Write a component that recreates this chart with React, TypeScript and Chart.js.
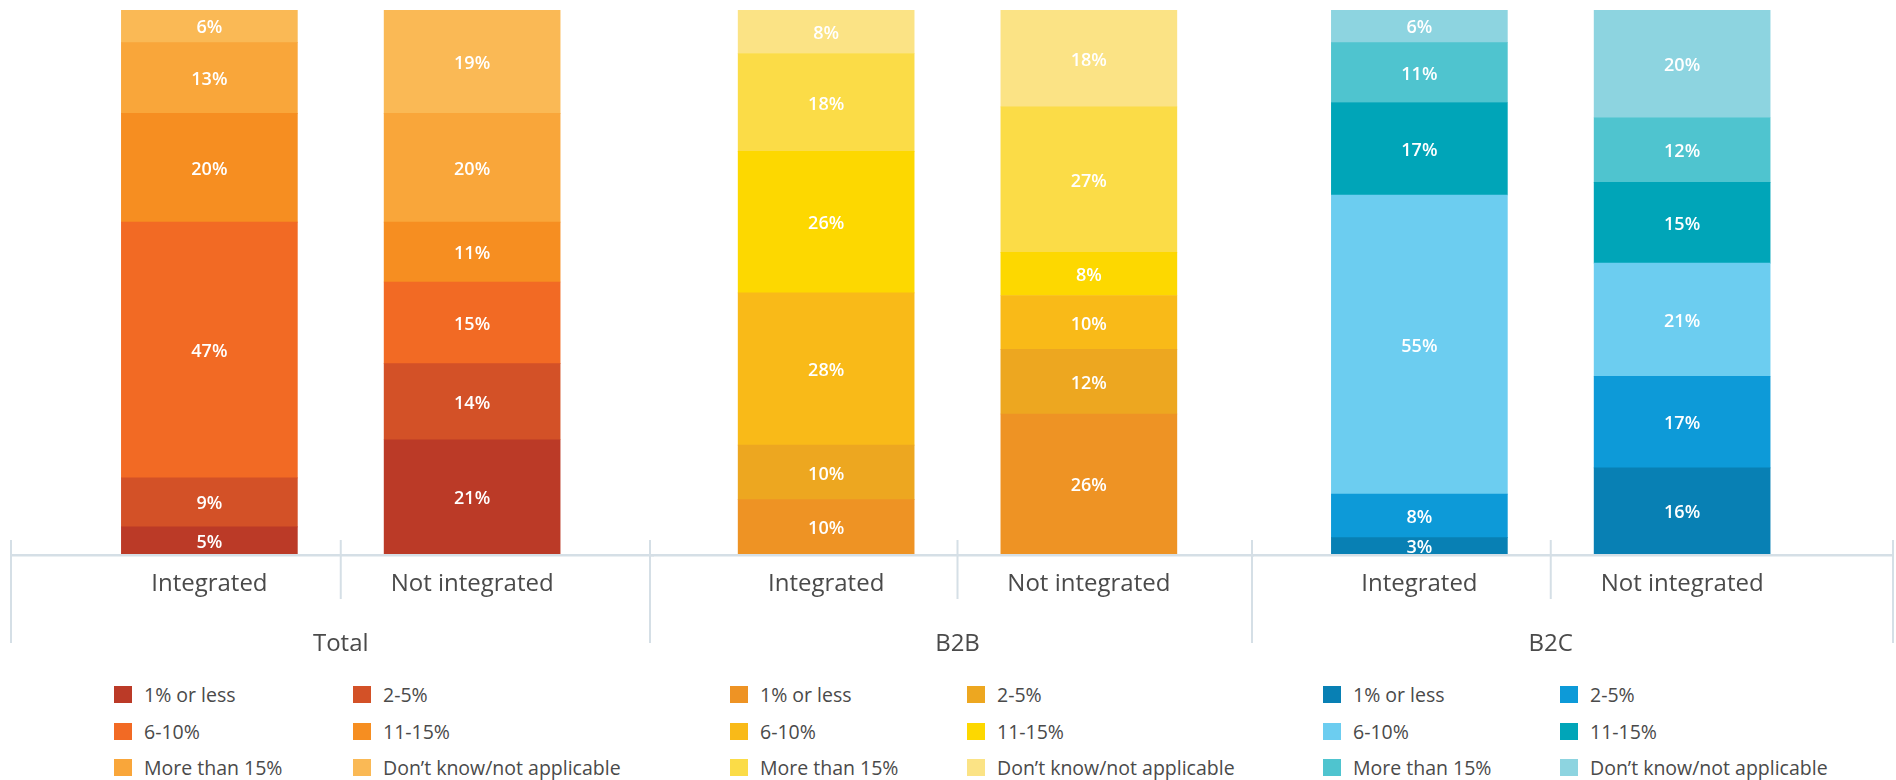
import React, { useEffect, useRef } from 'react';
import { Chart, registerables } from 'chart.js';

Chart.register(...registerables);

// ---------- data ----------
const CATEGORIES = ['Integrated', 'Not integrated'];
const GROUPS = ['Total', 'B2B', 'B2C'];
const RESPONSES = ['1% or less', '2-5%', '6-10%', '11-15%', 'More than 15%', 'Don\u2019t know/not applicable'];

const TOTAL_INTEGRATED = [5, 9, 47, 20, 13, 6];
const TOTAL_NOT_INTEGRATED = [21, 14, 15, 11, 20, 19];
const B2B_INTEGRATED = [10, 10, 28, 26, 18, 8];
const B2B_NOT_INTEGRATED = [26, 12, 10, 8, 27, 18];
const B2C_INTEGRATED = [3, 8, 55, 17, 11, 6];
const B2C_NOT_INTEGRATED = [16, 17, 21, 15, 12, 20];

const TOTAL_COLORS = ['#bb3a27', '#d35127', '#f26a24', '#f68e21', '#f9a63a', '#fab955'];
const B2B_COLORS = ['#ee9324', '#eda720', '#f9ba18', '#fdd800', '#fbdc47', '#fbe385'];
const B2C_COLORS = ['#0880b4', '#0d9ad8', '#6ccdf0', '#00a5b8', '#4fc4cf', '#8dd4e0'];

const GROUP_SERIES = [
  [TOTAL_INTEGRATED, TOTAL_NOT_INTEGRATED],
  [B2B_INTEGRATED, B2B_NOT_INTEGRATED],
  [B2C_INTEGRATED, B2C_NOT_INTEGRATED],
];
const GROUP_COLORS = [TOTAL_COLORS, B2B_COLORS, B2C_COLORS];

// ---------- layout ----------
const LAYOUT = [
  { left: 9, width: 645, padL: 69, padR: 50.5, legend: [114, 353], last: false },
  { left: 648, width: 606, padL: 46.8, padR: 33.8, legend: [730, 967], last: false },
  { left: 1250, width: 645, padL: 38, padR: 81.5, legend: [1323, 1560], last: true },
];
const CANVAS_H = 660;
const LINE_COLOR = '#d5dfe6';
const TEXT_COLOR = '#4a4a4a';
const FONT = "'Open Sans', sans-serif";

function GroupChart({ index }: { index: number }) {
  const ref = useRef<HTMLCanvasElement | null>(null);
  const lay = LAYOUT[index];

  useEffect(() => {
    if (!ref.current) return;
    const series = GROUP_SERIES[index];
    const colors = GROUP_COLORS[index];
    const sums = series.map((s) => s.reduce((a, b) => a + b, 0));

    const datasets = RESPONSES.map((r, k) => ({
      label: r,
      data: series.map((s, c) => (s[k] / sums[c]) * 100),
      raw: series.map((s) => s[k]),
      backgroundColor: colors[k],
      borderWidth: 0,
      barThickness: 176,
    }));

    const axisPlugin = {
      id: 'groupAxis',
      beforeDatasetsDraw(chart: any) {
        const { ctx, chartArea } = chart;
        const y0 = chartArea.bottom;
        const w = chart.width;
        ctx.save();
        ctx.fillStyle = LINE_COLOR;
        ctx.fillRect(1, y0, (lay.last ? w - 2 : w) - 1, 2.5);
        ctx.fillRect(1, y0 - 14, 2, 103);
        if (lay.last) ctx.fillRect(w - 3, y0 - 14, 2, 103);
        const xs = chart.scales.x;
        const mid = (xs.getPixelForValue(0) + xs.getPixelForValue(1)) / 2;
        ctx.fillRect(mid - 1, y0 - 14, 2, 59);
        ctx.restore();
      },
      afterDatasetsDraw(chart: any) {
        const { ctx } = chart;
        ctx.save();
        ctx.font = `600 18px ${FONT}`;
        ctx.fillStyle = '#ffffff';
        ctx.textAlign = 'center';
        ctx.textBaseline = 'middle';
        chart.data.datasets.forEach((ds: any, di: number) => {
          const meta = chart.getDatasetMeta(di);
          meta.data.forEach((el: any, i: number) => {
            const v = ds.raw[i];
            if (!v) return;
            ctx.fillText(`${v}%`, el.x, (el.y + el.base) / 2 + 2);
          });
        });
        ctx.restore();
      },
    };

    const chart = new Chart(ref.current, {
      type: 'bar',
      data: { labels: CATEGORIES, datasets: datasets as any },
      options: {
        animation: false,
        responsive: false,
        devicePixelRatio: 1,
        layout: { padding: { top: 10, left: lay.padL, right: lay.padR, bottom: 0 } },
        plugins: { legend: { display: false }, tooltip: { enabled: false } },
        scales: {
          x: {
            stacked: true,
            grid: { display: false },
            border: { display: false },
            ticks: { color: TEXT_COLOR, font: { family: FONT, size: 24 }, padding: 8, maxRotation: 0 },
            title: {
              display: true,
              text: GROUPS[index],
              color: TEXT_COLOR,
              font: { family: FONT, size: 24 },
              padding: { top: 0, bottom: 1 },
            },
            afterFit: (scale: any) => {
              scale.height = 106;
            },
          },
          y: { stacked: true, min: 0, max: 100, display: false },
        },
      },
      plugins: [axisPlugin],
    });
    return () => chart.destroy();
  }, [index]);

  const colors = GROUP_COLORS[index];
  return (
    <>
      <canvas
        ref={ref}
        width={lay.width}
        height={CANVAS_H}
        style={{ position: 'absolute', left: lay.left, top: 0, width: lay.width, height: CANVAS_H }}
      />
      {RESPONSES.map((r, k) => (
        <div
          key={r}
          style={{
            position: 'absolute',
            left: lay.legend[k % 2],
            top: 686 + Math.floor(k / 2) * 36.7,
            height: 17,
            display: 'flex',
            alignItems: 'center',
            whiteSpace: 'nowrap',
            fontFamily: FONT,
            fontSize: 19.5,
            color: TEXT_COLOR,
          }}
        >
          <span style={{ display: 'inline-block', width: 18, height: 17, background: colors[k], marginRight: 12 }} />
          <span>{r}</span>
        </div>
      ))}
    </>
  );
}

export default function App() {
  return (
    <div style={{ position: 'absolute', left: 0, top: 0, width: 1896, height: 780, overflow: 'hidden', background: '#fff' }}>
      {GROUPS.map((g, i) => (
        <GroupChart key={g} index={i} />
      ))}
    </div>
  );
}
